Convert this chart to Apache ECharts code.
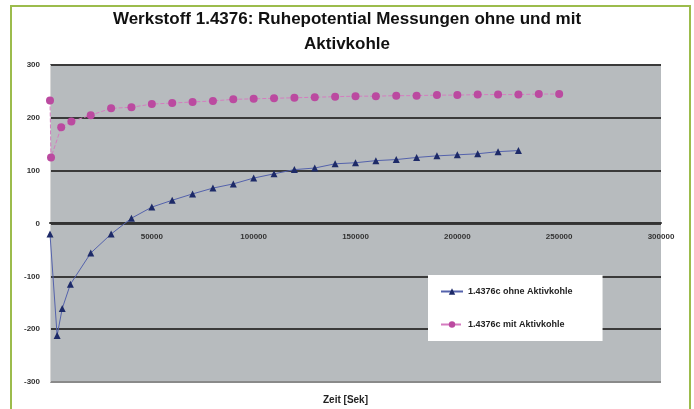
<!DOCTYPE html>
<html><head><meta charset="utf-8">
<script src="https://cdn.jsdelivr.net/npm/echarts@6/dist/echarts.min.js"></script>
<style>html,body{margin:0;padding:0;background:#fff}#c{width:694px;height:409px}</style>
</head><body><div id="c"></div>
<script>
const titleText = "Werkstoff 1.4376: Ruhepotential Messungen ohne und mit\nAktivkohle";
const xAxisTitle = "Zeit [Sek]";
const seriesNames = ["1.4376c ohne Aktivkohle", "1.4376c mit Aktivkohle"];
const ohneX = [0, 3500, 6000, 10000, 20000, 30000, 40000, 50000, 60000, 70000, 80000, 90000, 100000, 110000, 120000, 130000, 140000, 150000, 160000, 170000, 180000, 190000, 200000, 210000, 220000, 230000];
const ohneY = [-20, -212, -161, -115, -56, -20, 10, 31, 44, 56, 67, 75, 86, 94, 102, 105, 113, 115, 119, 121, 125, 128, 130, 132, 136, 138];
const mitX = [0, 500, 5500, 10500, 20000, 30000, 40000, 50000, 60000, 70000, 80000, 90000, 100000, 110000, 120000, 130000, 140000, 150000, 160000, 170000, 180000, 190000, 200000, 210000, 220000, 230000, 240000, 250000];
const mitY = [233, 125, 182, 193, 205, 218, 220, 226, 228, 230, 232, 235, 236, 237, 238, 239, 240, 241, 241, 242, 242, 243, 243, 244, 244, 244, 245, 245];
const yTicks = {min: -300, max: 300, interval: 100};
const xTicks = {min: 0, max: 300000, interval: 50000};

const chart = echarts.init(document.getElementById('c'), null, {renderer: 'canvas'});
const pairs = (xs, ys) => xs.map((x, i) => [x, ys[i]]);
chart.setOption({
  animation: false,
  backgroundColor: '#ffffff',
  textStyle: {fontFamily: 'Liberation Sans, Arial, sans-serif'},
  graphic: [{
    type: 'rect', shape: {x: 11, y: 6, width: 679, height: 420},
    style: {fill: 'none', stroke: '#9cbc4c', lineWidth: 2}, silent: true, z: -1
  }],
  title: {
    text: titleText, left: 'center', top: 2,
    textStyle: {fontSize: 17, fontWeight: 'bold', color: '#111', lineHeight: 25}
  },
  grid: {left: 50, right: 33, top: 65, bottom: 27, show: true, backgroundColor: '#b7bbbe', borderWidth: 0, outerBoundsMode: 'none', containLabel: false},
  legend: {
    orient: 'vertical', left: 428, top: 275,
    backgroundColor: '#ffffff', padding: [12, 30, 12, 12], itemGap: 24,
    itemWidth: 22, itemHeight: 8,
    textStyle: {fontSize: 9, fontWeight: 'bold', color: '#222'},
    data: seriesNames
  },
  xAxis: {
    type: 'value', min: xTicks.min, max: xTicks.max, interval: xTicks.interval,
    position: 'bottom', offset: -159,
    name: xAxisTitle, nameLocation: 'middle', nameGap: 172,
    nameTextStyle: {fontSize: 10, fontWeight: 'bold', color: '#222', padding: [0, 20, 0, 0]},
    axisLine: {show: true, onZero: false, lineStyle: {color: '#333', width: 2}},
    axisTick: {show: false},
    axisLabel: {showMinLabel: false, fontSize: 8, fontWeight: 'bold', color: '#333', margin: 10,
      formatter: v => String(v)},
    splitLine: {show: false}
  },
  yAxis: {
    type: 'value', min: yTicks.min, max: yTicks.max, interval: yTicks.interval,
    axisLine: {show: true, onZero: false, lineStyle: {color: '#d8d8d8', width: 1}},
    axisTick: {show: false},
    axisLabel: {fontSize: 8, fontWeight: 'bold', color: '#333', margin: 10},
    splitLine: {show: true, lineStyle: {color: ['#8a8a8a', '#3a3a3a', '#3a3a3a', '#3a3a3a', '#3a3a3a', '#3a3a3a', '#3a3a3a'], width: 2}}
  },
  series: [
    {
      name: seriesNames[0], type: 'line', data: pairs(ohneX, ohneY),
      symbol: 'triangle', symbolSize: 7,
      itemStyle: {color: '#1d2a68'},
      lineStyle: {color: '#5462ac', width: 1}
    },
    {
      name: seriesNames[1], type: 'line', data: pairs(mitX, mitY),
      symbol: 'circle', symbolSize: 8,
      itemStyle: {color: '#bb4aa0'},
      lineStyle: {color: '#d57cc0', width: 1, type: 'dashed'}
    }
  ]
});
</script></body></html>
